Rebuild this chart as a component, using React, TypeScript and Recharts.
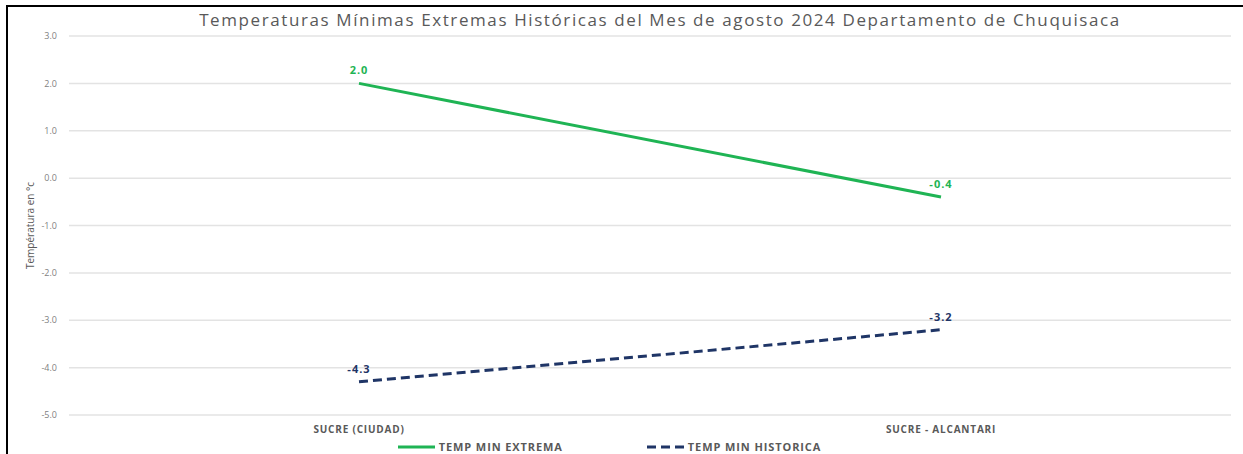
import React from "react";
import {
  LineChart,
  Line,
  XAxis,
  YAxis,
  CartesianGrid,
  Legend,
  LabelList,
} from "recharts";

const stations = ["SUCRE (CIUDAD)", "SUCRE - ALCANTARI"];
const tempMinExtrema = [2.0, -0.4];
const tempMinHistorica = [-4.3, -3.2];
const yTicks = [-5, -4, -3, -2, -1, 0, 1, 2, 3];

const data = stations.map((name, i) => ({
  name,
  extrema: tempMinExtrema[i],
  historica: tempMinHistorica[i],
}));

const FONT = "'Open Sans', 'Noto Sans', sans-serif";
const GREEN = "#1fb454";
const NAVY = "#1f3566";

const YLabel = (props: any) => {
  const { viewBox } = props;
  const cx = viewBox.x + 30;
  const cy = viewBox.y + viewBox.height / 2;
  return (
    <text
      x={cx}
      y={cy}
      transform={`rotate(-90 ${cx} ${cy})`}
      textAnchor="middle"
      dominantBaseline="central"
      fontSize={10}
      fill="#595959"
      fontFamily={FONT}
    >
      Températura en °c
    </text>
  );
};

const LegendContent = () => (
  <div
    style={{
      display: "flex",
      justifyContent: "center",
      gap: 84,
      fontFamily: FONT,
      fontSize: 11,
      fontWeight: 700,
      letterSpacing: 0.9,
      color: "#595959",
      paddingTop: 4,
      marginLeft: -12,
    }}
  >
    <div style={{ display: "flex", alignItems: "center", gap: 4 }}>
      <svg width={37} height={6}>
        <line x1={0} y1={3} x2={37} y2={3} stroke={GREEN} strokeWidth={3} />
      </svg>
      <span>TEMP MIN EXTREMA</span>
    </div>
    <div style={{ display: "flex", alignItems: "center", gap: 4 }}>
      <svg width={37} height={6}>
        <line
          x1={0}
          y1={3}
          x2={37}
          y2={3}
          stroke={NAVY}
          strokeWidth={3}
          strokeDasharray="9 5"
        />
      </svg>
      <span>TEMP MIN HISTORICA</span>
    </div>
  </div>
);

const App = () => {
  return (
    <div
      style={{
        position: "absolute",
        left: 0,
        top: 0,
        width: 1243,
        height: 454,
        background: "#fff",
      }}
    >
      <div
        style={{
          position: "absolute",
          left: 6,
          top: 5,
          right: 0,
          bottom: 0,
          borderTop: "2px solid #000",
          borderLeft: "2px solid #000",
        }}
      />
      <div style={{ position: "absolute", left: 0, top: 0 }}>
        <LineChart
          width={1243}
          height={454}
          data={data}
          margin={{ top: 36, right: 12, bottom: 0, left: 0 }}
        >
          <text
            x={660}
            y={26}
            textAnchor="middle"
            fontSize={17}
            fill="#595959"
            fontFamily={FONT}
            letterSpacing={1.6}
          >
            Temperaturas Mínimas Extremas Históricas del Mes de agosto 2024
            Departamento de Chuquisaca
          </text>
          <CartesianGrid
            vertical={false}
            stroke="#e3e3e3"
            strokeWidth={1.5}
          />
          <XAxis
            dataKey="name"
            axisLine={false}
            tickLine={false}
            padding={{ left: 290, right: 290 }}
            height={20}
            tickMargin={5}
            tick={{
              fontSize: 10,
              fontWeight: 700,
              fill: "#595959",
              fontFamily: FONT,
              letterSpacing: 0.8,
            }}
          />
          <YAxis
            domain={[-5, 3]}
            ticks={yTicks}
            interval={0}
            width={69}
            axisLine={false}
            tickLine={false}
            tickSize={0}
            tickMargin={12}
            tickFormatter={(v: number) => v.toFixed(1)}
            tick={{ fontSize: 9, fill: "#7f7f7f", fontFamily: FONT }}
            label={<YLabel />}
          />
          <Legend
            verticalAlign="bottom"
            height={19}
            content={<LegendContent />}
          />
          <Line
            dataKey="extrema"
            stroke={GREEN}
            strokeWidth={3}
            dot={false}
            isAnimationActive={false}
          >
            <LabelList
              dataKey="extrema"
              position="top"
              offset={9}
              formatter={(v: any) => Number(v).toFixed(1)}
              style={{
                fontSize: 11,
                fontWeight: 700,
                fill: GREEN,
                fontFamily: FONT,
                letterSpacing: 1,
              }}
            />
          </Line>
          <Line
            dataKey="historica"
            stroke={NAVY}
            strokeWidth={3}
            strokeDasharray="9 5"
            dot={false}
            isAnimationActive={false}
          >
            <LabelList
              dataKey="historica"
              position="top"
              offset={9}
              formatter={(v: any) => Number(v).toFixed(1)}
              style={{
                fontSize: 11,
                fontWeight: 700,
                fill: NAVY,
                fontFamily: FONT,
                letterSpacing: 1,
              }}
            />
          </Line>
        </LineChart>
      </div>
    </div>
  );
};

export default App;
